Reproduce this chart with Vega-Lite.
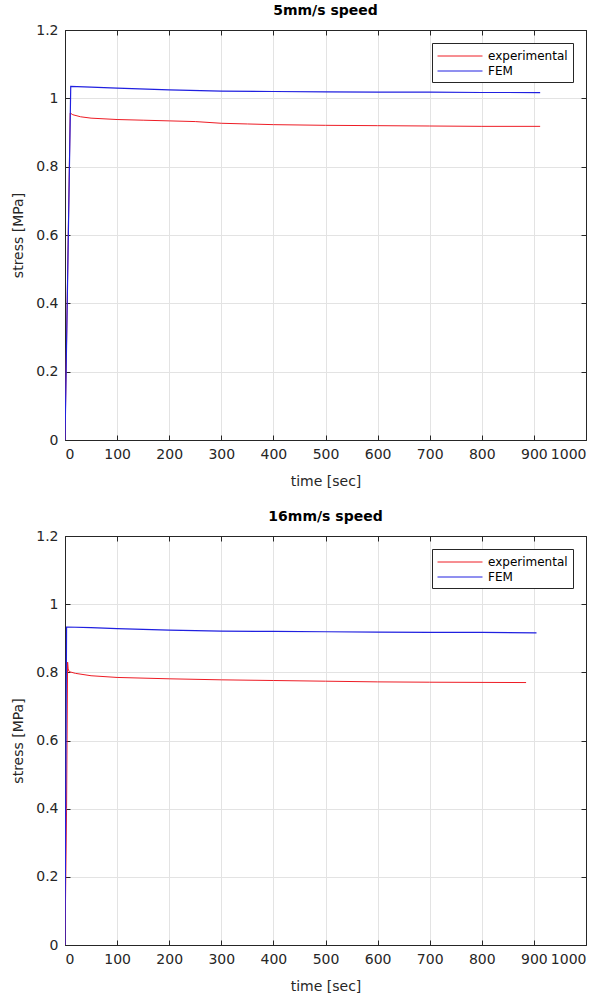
{
  "$schema": "https://vega.github.io/schema/vega-lite/v6.json",
  "background": "white",
  "padding": {"left": 11, "top": 3, "right": 5, "bottom": 3},
  "datasets": {
    "d": [
      {"panel": "5mm/s", "series": "experimental", "t": 0, "stress": 0},
      {"panel": "5mm/s", "series": "experimental", "t": 10, "stress": 0.957},
      {"panel": "5mm/s", "series": "experimental", "t": 15, "stress": 0.952},
      {"panel": "5mm/s", "series": "experimental", "t": 30, "stress": 0.946},
      {"panel": "5mm/s", "series": "experimental", "t": 50, "stress": 0.942},
      {"panel": "5mm/s", "series": "experimental", "t": 100, "stress": 0.938},
      {"panel": "5mm/s", "series": "experimental", "t": 150, "stress": 0.936},
      {"panel": "5mm/s", "series": "experimental", "t": 200, "stress": 0.934},
      {"panel": "5mm/s", "series": "experimental", "t": 250, "stress": 0.932},
      {"panel": "5mm/s", "series": "experimental", "t": 300, "stress": 0.927},
      {"panel": "5mm/s", "series": "experimental", "t": 350, "stress": 0.925},
      {"panel": "5mm/s", "series": "experimental", "t": 400, "stress": 0.923},
      {"panel": "5mm/s", "series": "experimental", "t": 500, "stress": 0.921},
      {"panel": "5mm/s", "series": "experimental", "t": 600, "stress": 0.92},
      {"panel": "5mm/s", "series": "experimental", "t": 700, "stress": 0.919},
      {"panel": "5mm/s", "series": "experimental", "t": 800, "stress": 0.918},
      {"panel": "5mm/s", "series": "experimental", "t": 912, "stress": 0.918},
      {"panel": "5mm/s", "series": "FEM", "t": 0, "stress": 0},
      {"panel": "5mm/s", "series": "FEM", "t": 11, "stress": 1.035},
      {"panel": "5mm/s", "series": "FEM", "t": 50, "stress": 1.033},
      {"panel": "5mm/s", "series": "FEM", "t": 100, "stress": 1.03},
      {"panel": "5mm/s", "series": "FEM", "t": 200, "stress": 1.025},
      {"panel": "5mm/s", "series": "FEM", "t": 300, "stress": 1.021},
      {"panel": "5mm/s", "series": "FEM", "t": 400, "stress": 1.02},
      {"panel": "5mm/s", "series": "FEM", "t": 500, "stress": 1.019},
      {"panel": "5mm/s", "series": "FEM", "t": 600, "stress": 1.018},
      {"panel": "5mm/s", "series": "FEM", "t": 700, "stress": 1.018},
      {"panel": "5mm/s", "series": "FEM", "t": 800, "stress": 1.017},
      {"panel": "5mm/s", "series": "FEM", "t": 912, "stress": 1.017},
      {"panel": "16mm/s", "series": "experimental", "t": 0, "stress": 0},
      {"panel": "16mm/s", "series": "experimental", "t": 3, "stress": 0.4},
      {"panel": "16mm/s", "series": "experimental", "t": 5, "stress": 0.83},
      {"panel": "16mm/s", "series": "experimental", "t": 6, "stress": 0.81},
      {"panel": "16mm/s", "series": "experimental", "t": 8, "stress": 0.802},
      {"panel": "16mm/s", "series": "experimental", "t": 20, "stress": 0.797},
      {"panel": "16mm/s", "series": "experimental", "t": 50, "stress": 0.79},
      {"panel": "16mm/s", "series": "experimental", "t": 100, "stress": 0.785},
      {"panel": "16mm/s", "series": "experimental", "t": 200, "stress": 0.781},
      {"panel": "16mm/s", "series": "experimental", "t": 300, "stress": 0.778},
      {"panel": "16mm/s", "series": "experimental", "t": 400, "stress": 0.776},
      {"panel": "16mm/s", "series": "experimental", "t": 500, "stress": 0.774},
      {"panel": "16mm/s", "series": "experimental", "t": 600, "stress": 0.772},
      {"panel": "16mm/s", "series": "experimental", "t": 700, "stress": 0.771},
      {"panel": "16mm/s", "series": "experimental", "t": 885, "stress": 0.77},
      {"panel": "16mm/s", "series": "FEM", "t": 0, "stress": 0},
      {"panel": "16mm/s", "series": "FEM", "t": 3, "stress": 0.933},
      {"panel": "16mm/s", "series": "FEM", "t": 50, "stress": 0.931},
      {"panel": "16mm/s", "series": "FEM", "t": 100, "stress": 0.928},
      {"panel": "16mm/s", "series": "FEM", "t": 200, "stress": 0.924},
      {"panel": "16mm/s", "series": "FEM", "t": 300, "stress": 0.921},
      {"panel": "16mm/s", "series": "FEM", "t": 400, "stress": 0.92},
      {"panel": "16mm/s", "series": "FEM", "t": 500, "stress": 0.919},
      {"panel": "16mm/s", "series": "FEM", "t": 600, "stress": 0.918},
      {"panel": "16mm/s", "series": "FEM", "t": 700, "stress": 0.917},
      {"panel": "16mm/s", "series": "FEM", "t": 800, "stress": 0.917},
      {"panel": "16mm/s", "series": "FEM", "t": 905, "stress": 0.916}
    ]
  },
  "config": {
    "font": "DejaVu Sans",
    "view": {"stroke": "#262626", "strokeWidth": 1},
    "axis": {
      "labelFont": "DejaVu Sans", "labelFontSize": 14, "labelColor": "#262626",
      "titleFont": "DejaVu Sans", "titleFontSize": 14, "titleFontWeight": "normal", "titleColor": "#262626",
      "domainColor": "#262626", "tickColor": "#262626", "tickSize": -5, "labelPadding": 12,
      "gridColor": "#e3e3e3", "gridOpacity": 1, "domainWidth": 1, "tickWidth": 1, "titlePadding": 10
    },
    "axisX": {"titlePadding": 13},
    "title": {"font": "DejaVu Sans", "fontSize": 14, "fontWeight": "bold", "color": "#000000", "offset": 5, "anchor": "middle"},
    "legend": {
      "orient": "top-right", "offset": 13, "strokeColor": "#262626", "fillColor": "white", "padding": 5,
      "symbolType": "M-3,0H3", "symbolSize": 225, "symbolStrokeWidth": 1, "symbolOffset": 15,
      "labelFont": "DejaVu Sans", "labelFontSize": 12, "labelColor": "#000000", "rowPadding": 1, "labelOffset": 20
    }
  },
  "spacing": 20,
  "resolve": {"scale": {"color": "independent"}, "legend": {"color": "independent"}},
  "vconcat": [
    {
      "title": "5mm/s speed",
      "width": 521, "height": 410,
      "data": {"name": "d"},
      "transform": [{"filter": "datum.panel === '5mm/s'"}],
      "layer": [
        {
          "transform": [{"filter": "datum.series === 'experimental'"}],
          "mark": {"type": "line", "strokeWidth": 1, "clip": true},
          "encoding": {
            "x": {"field": "t", "type": "quantitative", "scale": {"domain": [0, 1000], "nice": false},
                  "axis": {"orient": "bottom", "title": "time [sec]", "values": [0,100,200,300,400,500,600,700,800,900,1000], "format": "d", "grid": true}},
            "y": {"field": "stress", "type": "quantitative", "scale": {"domain": [0, 1.2], "nice": false},
                  "axis": {"orient": "left", "title": "stress [MPa]", "values": [0,0.2,0.4,0.6,0.8,1,1.2], "format": "~g", "grid": true}},
            "color": {"field": "series", "type": "nominal", "scale": {"domain": ["experimental", "FEM"], "range": ["#ee1c25", "#2020e0"]}, "legend": {"title": null}}
          }
        },
        {
          "transform": [{"filter": "datum.series === 'FEM'"}],
          "mark": {"type": "line", "strokeWidth": 1.2, "clip": true},
          "encoding": {
            "x": {"field": "t", "type": "quantitative", "axis": {"orient": "top", "title": null, "labels": false, "grid": false, "values": [0,100,200,300,400,500,600,700,800,900,1000]}},
            "y": {"field": "stress", "type": "quantitative", "axis": {"orient": "right", "title": null, "labels": false, "grid": false, "values": [0,0.2,0.4,0.6,0.8,1,1.2]}},
            "color": {"field": "series", "type": "nominal", "legend": {"title": null}}
          }
        }
      ],
      "resolve": {"axis": {"x": "independent", "y": "independent"}}
    },
    {
      "title": "16mm/s speed",
      "width": 521, "height": 409,
      "data": {"name": "d"},
      "transform": [{"filter": "datum.panel === '16mm/s'"}],
      "layer": [
        {
          "transform": [{"filter": "datum.series === 'experimental'"}],
          "mark": {"type": "line", "strokeWidth": 1, "clip": true},
          "encoding": {
            "x": {"field": "t", "type": "quantitative", "scale": {"domain": [0, 1000], "nice": false},
                  "axis": {"orient": "bottom", "title": "time [sec]", "values": [0,100,200,300,400,500,600,700,800,900,1000], "format": "d", "grid": true}},
            "y": {"field": "stress", "type": "quantitative", "scale": {"domain": [0, 1.2], "nice": false},
                  "axis": {"orient": "left", "title": "stress [MPa]", "values": [0,0.2,0.4,0.6,0.8,1,1.2], "format": "~g", "grid": true}},
            "color": {"field": "series", "type": "nominal", "scale": {"domain": ["experimental", "FEM"], "range": ["#ee1c25", "#2020e0"]}, "legend": {"title": null}}
          }
        },
        {
          "transform": [{"filter": "datum.series === 'FEM'"}],
          "mark": {"type": "line", "strokeWidth": 1.2, "clip": true},
          "encoding": {
            "x": {"field": "t", "type": "quantitative", "axis": {"orient": "top", "title": null, "labels": false, "grid": false, "values": [0,100,200,300,400,500,600,700,800,900,1000]}},
            "y": {"field": "stress", "type": "quantitative", "axis": {"orient": "right", "title": null, "labels": false, "grid": false, "values": [0,0.2,0.4,0.6,0.8,1,1.2]}},
            "color": {"field": "series", "type": "nominal", "legend": {"title": null}}
          }
        }
      ],
      "resolve": {"axis": {"x": "independent", "y": "independent"}}
    }
  ]
}
